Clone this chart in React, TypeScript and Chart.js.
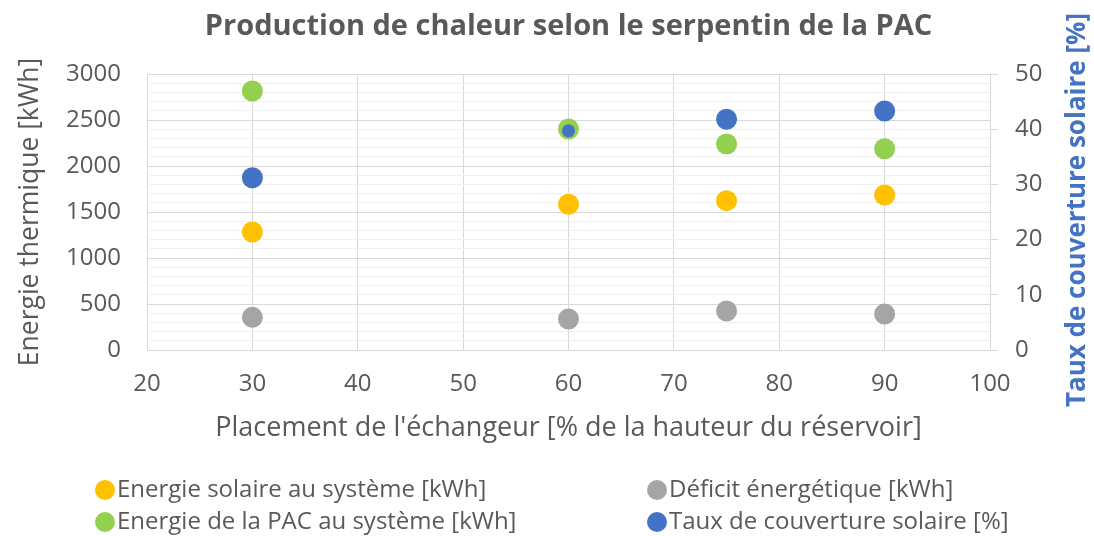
import React, { useEffect, useRef } from "react";
import { Chart, registerables } from "chart.js";

Chart.register(...registerables);

const placements = [30, 60, 75, 90];
const energieSolaire = [1283, 1584, 1623, 1685];
const deficit = [355, 337, 424, 391];
const energiePAC = [2815, 2402, 2239, 2188];
const tauxCouverture = [31.2, 39.7, 41.8, 43.3];
const tauxRadius = [10.5, 6.5, 10.5, 10.5];

const seriesLabels = [
  "Energie solaire au système [kWh]",
  "Déficit énergétique [kWh]",
  "Energie de la PAC au système [kWh]",
  "Taux de couverture solaire [%]",
];
const seriesColors = ["#FFC000", "#A5A5A5", "#92D050", "#4472C4"];

const titleText = "Production de chaleur selon le serpentin de la PAC";
const xTitle = "Placement de l'échangeur [% de la hauteur du réservoir]";
const yTitle = "Energie thermique [kWh]";
const y1Title = "Taux de couverture solaire [%]";

const FONT = "'Open Sans', 'Noto Sans', sans-serif";
const TEXT = "#595959";

const textPlugin = {
  id: "customText",
  afterDraw(chart: any) {
    const ctx = chart.ctx;
    const area = chart.chartArea;
    ctx.save();
    ctx.fillStyle = TEXT;
    ctx.textAlign = "center";
    ctx.textBaseline = "middle";
    ctx.font = `bold 29px ${FONT}`;
    ctx.fillText(titleText, (area.left + area.right) / 2, 27);
    ctx.font = `27px ${FONT}`;
    ctx.fillText(xTitle, (area.left + area.right) / 2, 428);
    ctx.save();
    ctx.translate(30, 212);
    ctx.rotate(-Math.PI / 2);
    ctx.font = `26.5px ${FONT}`;
    ctx.fillText(yTitle, 0, 0);
    ctx.restore();
    ctx.save();
    ctx.translate(1078, 210);
    ctx.rotate(-Math.PI / 2);
    ctx.fillStyle = "#4472C4";
    ctx.font = `bold 26px ${FONT}`;
    ctx.fillText(y1Title, 0, 0);
    ctx.restore();

    // legend
    const items = [
      { i: 0, x: 105, y: 490 },
      { i: 1, x: 657, y: 490 },
      { i: 2, x: 105, y: 522 },
      { i: 3, x: 657, y: 522 },
    ];
    ctx.font = `24px ${FONT}`;
    ctx.textAlign = "left";
    for (const it of items) {
      ctx.beginPath();
      ctx.fillStyle = seriesColors[it.i];
      ctx.arc(it.x, it.y, 10, 0, Math.PI * 2);
      ctx.fill();
      ctx.fillStyle = TEXT;
      ctx.fillText(seriesLabels[it.i], it.x + 12, it.y);
    }
    ctx.restore();
  },
};

function toPoints(vals: number[]) {
  return placements.map((x, i) => ({ x, y: vals[i] }));
}

export default function App() {
  const ref = useRef<HTMLCanvasElement>(null);
  useEffect(() => {
    if (!ref.current) return;
    const mk = (i: number, vals: number[], axis: string, order: number, radius: any = 10.5) => ({
      label: seriesLabels[i],
      data: toPoints(vals),
      yAxisID: axis,
      order,
      backgroundColor: seriesColors[i],
      borderColor: seriesColors[i],
      borderWidth: 0,
      pointRadius: radius,
      pointHoverRadius: radius,
      showLine: false,
    });
    const chart = new Chart(ref.current, {
      type: "scatter",
      data: {
        datasets: [
          mk(0, energieSolaire, "y", 4),
          mk(1, deficit, "y", 3),
          mk(2, energiePAC, "y", 2),
          mk(3, tauxCouverture, "y1", 1, tauxRadius),
        ],
      },
      options: {
        responsive: false,
        animation: false,
        layout: { padding: { top: 74, bottom: 86, left: 0, right: 0 } },
        plugins: {
          legend: { display: false },
          title: { display: false },
          tooltip: { enabled: false },
        },
        scales: {
          x: {
            type: "linear",
            min: 20,
            max: 100,
            ticks: {
              stepSize: 10,
              color: TEXT,
              font: { family: FONT, size: 24 },
              padding: 20,
            },
            grid: { color: "#D9D9D9", drawTicks: false },
            border: { color: "#D9D9D9" },
            afterFit: (s: any) => {
              s.height = 100;
            },
          },
          y: {
            position: "left",
            min: 0,
            max: 3000,
            ticks: {
              stepSize: 100,
              autoSkip: false,
              color: TEXT,
              font: { family: FONT, size: 24 },
              padding: 26,
              callback: (v: any) => (Number(v) % 500 === 0 ? String(v) : ""),
            },
            grid: {
              drawTicks: false,
              color: (c: any) => (c.tick && c.tick.value % 500 === 0 ? "#D9D9D9" : "#F0F0F0"),
            },
            border: { display: false },
            afterFit: (s: any) => {
              s.width = 147;
            },
          },
          y1: {
            position: "right",
            min: 0,
            max: 50,
            ticks: {
              stepSize: 10,
              color: TEXT,
              font: { family: FONT, size: 24 },
              padding: 17,
            },
            grid: { drawOnChartArea: false, tickLength: 8, color: "#D9D9D9" },
            border: { color: "#D9D9D9" },
            afterFit: (s: any) => {
              s.width = 104;
            },
          },
        },
      },
      plugins: [textPlugin],
    } as any);
    return () => chart.destroy();
  }, []);
  return (
    <div style={{ position: "fixed", left: 0, top: 0, width: 1094, height: 536, background: "#fff" }}>
      <canvas ref={ref} width={1094} height={536} style={{ display: "block" }} />
    </div>
  );
}
